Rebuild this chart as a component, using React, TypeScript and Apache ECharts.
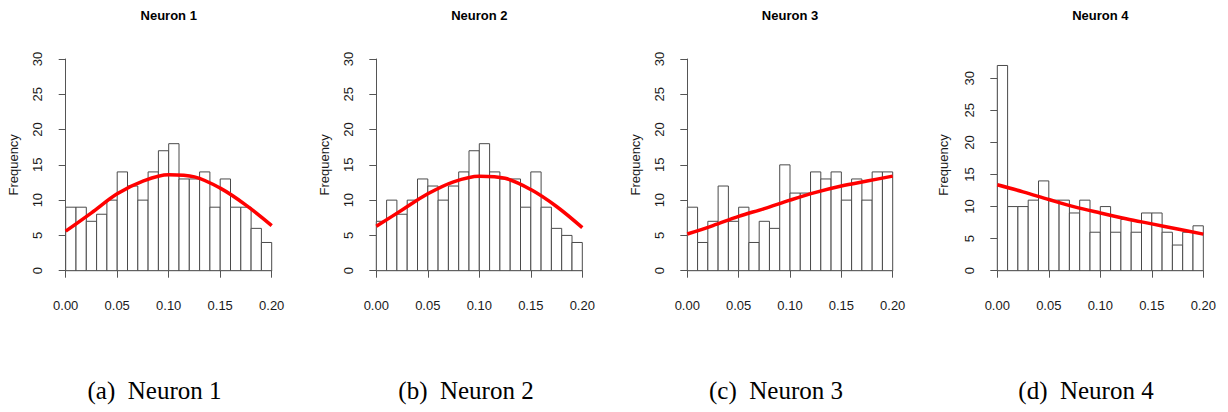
import React, { useEffect, useRef } from "react";
import * as echarts from "echarts";

// ---- data ----
const binEdges = [0, 0.01, 0.02, 0.03, 0.04, 0.05, 0.06, 0.07, 0.08, 0.09, 0.1, 0.11, 0.12, 0.13, 0.14, 0.15, 0.16, 0.17, 0.18, 0.19, 0.2];
const counts1 = [9, 9, 7, 8, 10, 14, 12, 10, 14, 17, 18, 13, 13, 14, 9, 13, 9, 9, 6, 4];
const counts2 = [7, 10, 8, 10, 13, 12, 10, 12, 14, 17, 18, 14, 13, 13, 9, 14, 9, 6, 5, 4];
const counts3 = [9, 4, 7, 12, 7, 9, 4, 7, 6, 15, 11, 11, 14, 13, 14, 10, 13, 10, 14, 14];
const counts4 = [32, 10, 10, 11, 14, 11, 11, 9, 11, 6, 10, 6, 8, 6, 9, 9, 6, 4, 6, 7];

const curveX = [0, 0.025, 0.05, 0.075, 0.1, 0.125, 0.15, 0.175, 0.2];
const curve1 = [5.6, 8.2, 10.9, 12.7, 13.6, 13.3, 11.7, 9.3, 6.4];
const curve2 = [6.3, 8.6, 10.9, 12.6, 13.4, 13.1, 11.5, 9.1, 6.1];
const curve3 = [5.2, 6.4, 7.7, 8.8, 10.0, 11.1, 12.0, 12.7, 13.4];
const curve4 = [13.4, 12.3, 11.1, 9.95, 9.0, 8.1, 7.3, 6.5, 5.7];

const panelTitles = ["Neuron 1", "Neuron 2", "Neuron 3", "Neuron 4"];
const captionTags = ["(a)", "(b)", "(c)", "(d)"];
const xMin = 0;
const xMax = 0.2;
const xStep = 0.05;
const yMin = 0;
const yMax = 30;
const yStep = 5;
const yName = "Frequency";

const allCounts = [counts1, counts2, counts3, counts4];
const allCurves = [curve1, curve2, curve3, curve4];

// ---- layout ----
const grids = [
  { left: 65.7, top: 59, width: 206, height: 211.7, cap: 154.5 },
  { left: 376.3, top: 59, width: 206, height: 211.7, cap: 466 },
  { left: 687.3, top: 59, width: 205.4, height: 211.7, cap: 776 },
  { left: 997.3, top: 78.3, width: 206, height: 192.4, cap: 1086 },
];

const SANS = '"Liberation Sans", Arial, Helvetica, sans-serif';
const NARROW = '"Liberation Sans Narrow", "Liberation Sans", Arial, sans-serif';
const SERIF = '"Liberation Serif", "Times New Roman", Times, serif';
const AXIS_COLOR = "#555";
const TEXT_COLOR = "#1a1a1a";

export default function App() {
  const ref = useRef<HTMLDivElement | null>(null);

  useEffect(() => {
    if (!ref.current) return;
    const chart = echarts.init(ref.current, undefined, { renderer: "svg" });

    const gridOpt = grids.map((g) => ({
      left: g.left,
      top: g.top,
      width: g.width,
      height: g.height,
      containLabel: false,
      outerBoundsMode: "none",
    }));

    const xAxes = grids.map((_, i) => ({
      type: "value",
      gridIndex: i,
      min: xMin,
      max: xMax,
      interval: xStep,
      offset: 8,
      position: "bottom",
      splitLine: { show: false },
      axisLine: { show: true, lineStyle: { color: AXIS_COLOR, width: 1 } },
      axisTick: { show: true, inside: false, length: 7, lineStyle: { color: AXIS_COLOR, width: 1 } },
      axisLabel: {
        show: true,
        margin: 20,
        fontSize: 13,
        fontFamily: NARROW,
        color: TEXT_COLOR,
        formatter: (v: number) => v.toFixed(2),
        showMinLabel: true,
        showMaxLabel: true,
      },
    }));

    const yAxes = grids.map((_, i) => ({
      type: "value",
      gridIndex: i,
      min: yMin,
      max: yMax,
      interval: yStep,
      offset: 8.5,
      position: "left",
      name: i < 3 ? yName : "",
      nameLocation: "middle",
      nameGap: 37,
      nameTextStyle: { fontSize: 13, fontFamily: SANS, color: TEXT_COLOR },
      splitLine: { show: false },
      axisLine: { show: true, lineStyle: { color: AXIS_COLOR, width: 1 } },
      axisTick: { show: true, inside: false, length: 7, lineStyle: { color: AXIS_COLOR, width: 1 } },
      axisLabel: {
        show: true,
        rotate: 90,
        margin: 13,
        fontSize: 13,
        fontFamily: SANS,
        color: TEXT_COLOR,
        showMinLabel: true,
        showMaxLabel: true,
      },
    }));

    const series: any[] = [];
    allCounts.forEach((counts, i) => {
      const data = counts.map((c, k) => [binEdges[k], binEdges[k + 1], c]);
      series.push({
        type: "custom",
        xAxisIndex: i,
        yAxisIndex: i,
        clip: false,
        z: 2,
        encode: { x: [0, 1], y: 2 },
        data,
        renderItem: (params: any, api: any) => {
          const p0 = api.coord([api.value(0), 0]);
          const p1 = api.coord([api.value(1), api.value(2)]);
          return {
            type: "rect",
            shape: { x: p0[0], y: p1[1], width: p1[0] - p0[0], height: p0[1] - p1[1] },
            style: { fill: "#ffffff", stroke: "#4a4a4a", lineWidth: 1 },
          };
        },
      });
    });
    allCurves.forEach((curve, i) => {
      series.push({
        type: "line",
        xAxisIndex: i,
        yAxisIndex: i,
        z: 5,
        smooth: 0.35,
        symbol: "none",
        clip: false,
        lineStyle: { color: "#ff0000", width: 3.5 },
        data: curve.map((v, k) => [curveX[k], v]),
      });
    });

    const titles: any[] = [];
    grids.forEach((g, i) => {
      titles.push({
        text: panelTitles[i],
        left: g.left + g.width / 2,
        top: 9,
        textAlign: "center",
        padding: 0,
        textStyle: { fontSize: 13, fontWeight: "bold", fontFamily: SANS, color: "#000" },
      });
      titles.push({
        text: captionTags[i] + "\u2002" + panelTitles[i],
        left: g.cap,
        top: 378,
        textAlign: "center",
        padding: 0,
        textStyle: { fontSize: 25, fontWeight: "normal", fontFamily: SERIF, color: "#000" },
      });
    });

    chart.setOption({
      animation: false,
      backgroundColor: "#ffffff",
      title: titles,
      grid: gridOpt,
      xAxis: xAxes,
      yAxis: yAxes,
      series,
      graphic: [
        {
          type: "text",
          x: 943,
          y: 165,
          rotation: Math.PI / 2,
          style: {
            text: yName,
            align: "center",
            verticalAlign: "middle",
            font: '13px "Liberation Sans", Arial, sans-serif',
            fill: TEXT_COLOR,
          },
        },
      ],
    });

    return () => {
      chart.dispose();
    };
  }, []);

  return (
    <div
      ref={ref}
      style={{ position: "fixed", left: 0, top: 0, width: 1228, height: 412, background: "#fff" }}
    />
  );
}
